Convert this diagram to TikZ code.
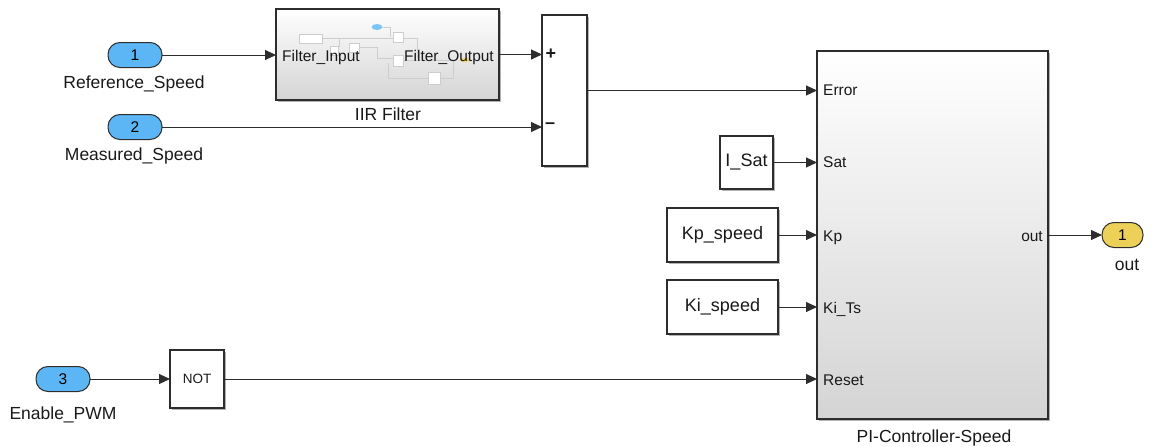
\documentclass[tikz,border=0pt]{standalone}
\usepackage{fontspec}
\setmainfont{Liberation Sans}
\usetikzlibrary{arrows.meta,shadows}
\definecolor{inblue}{RGB}{92,182,246}
\definecolor{outyellow}{RGB}{236,208,88}
\definecolor{edge}{RGB}{45,45,45}
\definecolor{thumb}{RGB}{205,205,205}
\definecolor{ink}{RGB}{25,25,25}
\definecolor{subgray}{RGB}{212,212,212}

\tikzset{
  blk/.style={draw=edge, line width=1.2pt, fill=white, inner sep=0pt, outer sep=0pt,
    drop shadow={shadow xshift=1.5pt, shadow yshift=-1.5pt, opacity=0.3, fill=black}},
  subsys/.style={blk, top color=white, bottom color=subgray},
  inport/.style={draw=edge, line width=1pt, fill=inblue, rounded corners=12pt,
    minimum width=54pt, minimum height=25pt, inner sep=0pt, outer sep=0pt,
    font=\fontsize{15.5}{18}\selectfont},
  outport/.style={inport, fill=outyellow, minimum width=41pt},
  wire/.style={draw=edge, line width=1pt, -{Triangle[length=11pt,width=10pt]}},
  lbl/.style={inner sep=0pt, text=ink, font=\fontsize{17.5}{20}\selectfont},
  port/.style={inner sep=0pt, text=ink, font=\fontsize{15.5}{18}\selectfont},
  sign/.style={inner sep=0pt, text=ink, font=\fontsize{18}{20}\selectfont\bfseries},
  const/.style={blk, font=\fontsize{18}{20}\selectfont, text=ink},
  thumbline/.style={draw=thumb, line width=0.6pt},
  thumbbox/.style={draw=thumb, line width=0.6pt, fill=white}
}

\begin{document}
\begin{tikzpicture}[x=1pt, y=-1pt]
\useasboundingbox (0,0) rectangle (1152,447);

% root inports and outport
\node[inport] (in1) at (135,55) {1};
\node[inport] (in2) at (135,127) {2};
\node[inport] (in3) at (63,379) {3};
\node[outport] (out1) at (1122.5,235) {1};

% blocks
\node[subsys, minimum width=223pt, minimum height=91pt] (iir) at (387.5,54.5) {};
\node[blk, minimum width=45pt, minimum height=151pt] (sum) at (564.5,90.5) {};
\node[blk, minimum width=54pt, minimum height=58pt, font=\fontsize{13.5}{16}\selectfont, text=ink] (notb) at (197,379) {NOT};
\node[subsys, minimum width=231pt, minimum height=368pt] (pi) at (932.5,235) {};
\node[const, minimum width=53pt, minimum height=53pt] (isat) at (746.5,162.5) {I\_Sat};
\node[const, minimum width=111pt, minimum height=54pt] (kp) at (722.5,235) {Kp\_speed};
\node[const, minimum width=111pt, minimum height=54pt] (ki) at (722.5,307) {Ki\_speed};

% miniature of the filter's inner model
\begin{scope}
  \draw[thumbline] (322,38) -- (417,38) -- (417,58);
  \draw[thumbline] (383,27) -- (390,27) -- (390,37);
  \draw[thumbline] (339,38) -- (339,47);
  \draw[thumbline] (359,47) -- (377,47) -- (377,58) -- (393,58);
  \draw[thumbline] (403,60) -- (453,60) -- (453,78) -- (440,78);
  \draw[thumbline] (388,63) -- (388,78) -- (428,78);
  \draw[thumbbox] (299,34) rectangle (322,43);
  \draw[thumbbox] (393,32) rectangle (403,42);
  \draw[thumbbox] (349,43) rectangle (359,52);
  \draw[thumbbox] (330,46) rectangle (338,55);
  \draw[thumbbox] (393,55) rectangle (403,66);
  \draw[thumbbox] (428,72) rectangle (440,84);
  \fill[inblue!80] (377,27) ellipse (5.5pt and 3pt);
  \fill[outyellow!80] (465,60) ellipse (5pt and 2.5pt);
\end{scope}

% port labels
\node[port, anchor=base west] (fin) at (282,61) {Filter\_Input};
\node[port, anchor=base east] (fout) at (494,61) {Filter\_Output};
\node[sign] (plus) at (551,54) {+};
\node[sign] (minus) at (550,126) {–};
\node[port, anchor=base west] (perr) at (823,95) {Error};
\node[port, anchor=base west] (psat) at (823,167) {Sat};
\node[port, anchor=base west] (pkp) at (823,241) {Kp};
\node[port, anchor=base west] (pki) at (823,313) {Ki\_Ts};
\node[port, anchor=base west] (prst) at (823,385) {Reset};
\node[port, anchor=base east] (pout) at (1043,241) {out};

% block names
\node[lbl, anchor=base] (in1lbl) at (134,88) {Reference\_Speed};
\node[lbl, anchor=base] (in2lbl) at (134,160) {Measured\_Speed};
\node[lbl, anchor=base] (in3lbl) at (63,419) {Enable\_PWM};
\node[lbl, anchor=base] (iirlbl) at (388,120) {IIR Filter};
\node[lbl, anchor=base] (pilbl) at (934,442) {PI-Controller-Speed};
\node[lbl, anchor=base] (outlbl) at (1127,270) {out};

% signal lines
\draw[wire] (in1.east) -- (in1.east -| iir.west);
\draw[wire] (iir.east) -- (iir.east -| sum.west);
\draw[wire] (in2.east) -- (in2.east -| sum.west);
\draw[wire] (sum.east) -- (sum.east -| pi.west);
\draw[wire] (isat.east) -- (isat.east -| pi.west);
\draw[wire] (kp.east) -- (kp.east -| pi.west);
\draw[wire] (ki.east) -- (ki.east -| pi.west);
\draw[wire] (in3.east) -- (notb.west);
\draw[wire] (notb.east) -- (notb.east -| pi.west);
\draw[wire] (pi.east) -- (out1.west);
\end{tikzpicture}
\end{document}
